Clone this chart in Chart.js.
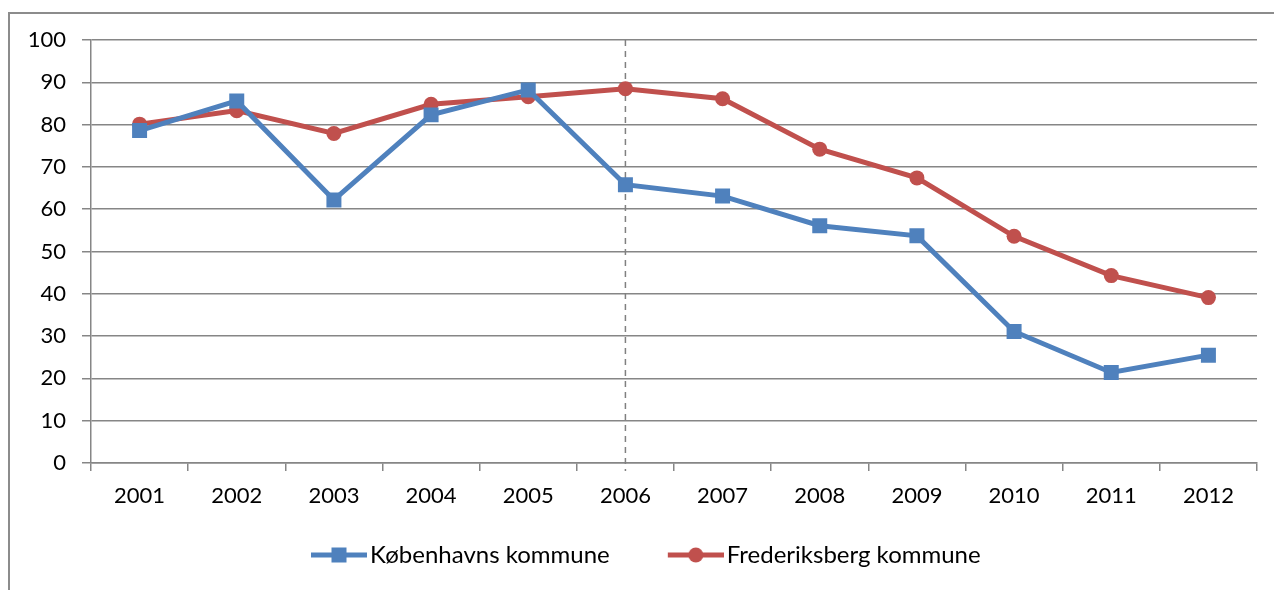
<!DOCTYPE html>
<html lang="da">
<head>
<meta charset="UTF-8">
<title>Kommuner 2001-2012</title>
<script src="https://cdn.jsdelivr.net/npm/chart.js"></script>
<style>
    body { margin: 0; background: #fff; overflow: hidden; }
    .ramme { position: absolute; left: 8px; top: 12px; width: 1400px; height: 700px; border-left: 2px solid #8c8c8c; border-top: 2px solid #8c8c8c; }
    #wrap { position: absolute; left: 0; top: 0; width: 1274px; height: 590px; }
</style>
</head>
<body>
<div class="ramme"></div>
<div id="wrap"><canvas id="myChart"></canvas></div>

<script>
    const aar = ['2001', '2002', '2003', '2004', '2005', '2006', '2007', '2008', '2009', '2010', '2011', '2012'];
    const koebenhavn = [78.6, 85.6, 62.2, 82.3, 88.2, 65.8, 63.1, 56.1, 53.7, 31.1, 21.4, 25.5];
    const frederiksberg = [80.1, 83.3, 77.9, 84.8, 86.6, 88.5, 86.1, 74.2, 67.4, 53.6, 44.3, 39.1];
    const yTicks = [0, 10, 20, 30, 40, 50, 60, 70, 80, 90, 100];

    const blaa = '#4f81bd';
    const roed = '#c0504d';
    const graa = '#868686';
    const skrift = 'Lato, "Open Sans", sans-serif';

    // legend symbol: 56px line with marker in the middle, ends just before the text
    function legendIkon(farve, form) {
        const c = document.createElement('canvas');
        c.width = 58; c.height = 16;
        const g = c.getContext('2d');
        g.strokeStyle = farve;
        g.lineWidth = 5;
        g.beginPath(); g.moveTo(2, 8); g.lineTo(58, 8); g.stroke();
        g.fillStyle = farve;
        if (form === 'rect') {
            g.fillRect(22.5, 0.5, 15, 15);
        } else {
            g.beginPath(); g.arc(30, 8, 7.5, 0, Math.PI * 2); g.fill();
        }
        return c;
    }

    const stiplet = {
        id: 'stiplet',
        beforeDatasetsDraw(chart) {
            const x = chart.scales.x.getPixelForValue(5);
            const ctx = chart.ctx;
            ctx.save();
            ctx.strokeStyle = '#808080';
            ctx.lineWidth = 1.5;
            ctx.setLineDash([6, 5]);
            ctx.beginPath();
            ctx.moveTo(x, chart.chartArea.top);
            ctx.lineTo(x, chart.chartArea.bottom + 8);
            ctx.stroke();
            ctx.restore();
        }
    };

    // Excel puts the legend a bit left of centre with wide gaps
    const flytLegend = {
        id: 'flytLegend',
        afterLayout(chart) {
            const lg = chart.legend;
            lg.left = 253;
            lg.right = chart.width;
            lg.top = 478;
            lg.bottom = chart.height;
            lg.width = lg.right - lg.left;
            lg.height = lg.bottom - lg.top;
        }
    };

    const ikoner = [legendIkon(blaa, 'rect'), legendIkon(roed, 'circle')];

    const ctx = document.getElementById('myChart').getContext('2d');
    const myChart = new Chart(ctx, {
        type: 'line',
        data: {
            labels: aar,
            datasets: [{
                label: 'Københavns kommune',
                data: koebenhavn,
                borderColor: blaa,
                backgroundColor: blaa,
                borderWidth: 5,
                pointStyle: 'rect',
                pointRadius: 10.6,
                pointBorderWidth: 0,
                tension: 0
            }, {
                label: 'Frederiksberg kommune',
                data: frederiksberg,
                borderColor: roed,
                backgroundColor: roed,
                borderWidth: 5,
                pointStyle: 'circle',
                pointRadius: 7.5,
                pointBorderWidth: 0,
                tension: 0
            }]
        },
        options: {
            responsive: true,
            maintainAspectRatio: false,
            animation: false,
            layout: { padding: { left: 0, right: 17, top: 40, bottom: 57 } },
            plugins: {
                tooltip: { enabled: false },
                legend: {
                    position: 'bottom',
                    align: 'start',
                    maxHeight: 10,
                    labels: {
                        usePointStyle: true,
                        pointStyleWidth: 40,
                        padding: 65,
                        color: '#000',
                        font: { family: skrift, size: 24 },
                        generateLabels(chart) {
                            return chart.data.datasets.map((ds, i) => ({
                                text: ds.label,
                                pointStyle: ikoner[i],
                                fontColor: '#000',
                                datasetIndex: i,
                                lineWidth: 0
                            }));
                        }
                    }
                }
            },
            scales: {
                x: {
                    offset: true,
                    afterFit(scale) { scale.height = 60; },
                    grid: { offset: true, drawOnChartArea: false, drawTicks: true, tickLength: 8, color: graa, lineWidth: 1.5 },
                    border: { color: graa, width: 1.5 },
                    ticks: { color: '#000', font: { family: skrift, size: 22 }, padding: 12, maxRotation: 0 }
                },
                y: {
                    min: 0,
                    max: 100,
                    afterBuildTicks(scale) { scale.ticks = yTicks.map(v => ({ value: v })); },
                    afterFit(scale) { scale.width = 91; },
                    grid: { color: graa, lineWidth: 1.5, tickLength: 9 },
                    border: { color: graa, width: 1.5 },
                    ticks: { color: '#000', font: { family: skrift, size: 22 }, padding: 16 }
                }
            }
        },
        plugins: [stiplet, flytLegend]
    });
</script>
</body>
</html>
